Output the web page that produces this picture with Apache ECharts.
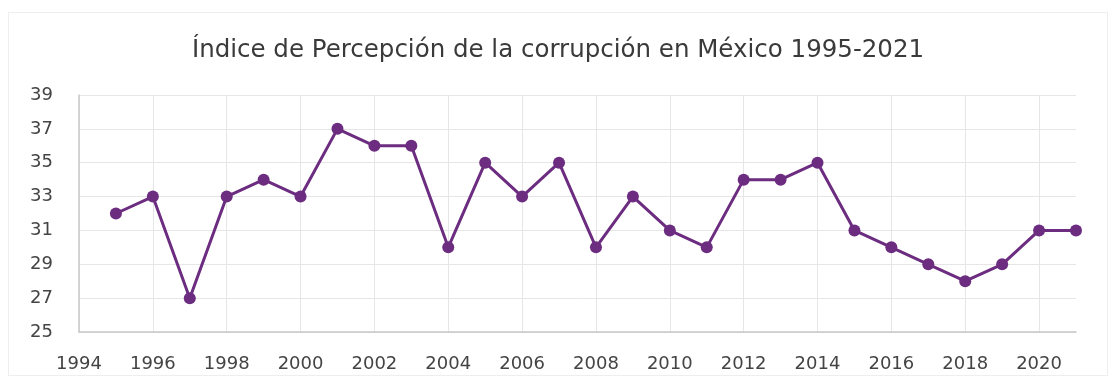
<!DOCTYPE html>
<html>
<head>
<meta charset="utf-8">
<script src="https://cdn.jsdelivr.net/npm/echarts@6/dist/echarts.min.js"></script>
<style>
  html, body { margin: 0; padding: 0; background: #fff; }
  #frame { position: absolute; left: 8px; top: 12px; width: 1100px; height: 364px; border: 1px solid #eeeeee; box-sizing: border-box; }
  #chart { position: absolute; left: 0; top: 0; width: 1116px; height: 383px; }
</style>
</head>
<body>
<div id="frame"></div>
<div id="chart"></div>
<script>
// Corruption Perception Index for Mexico, by year
const years = [1995, 1996, 1997, 1998, 1999, 2000, 2001, 2002, 2003, 2004, 2005, 2006, 2007, 2008,
               2009, 2010, 2011, 2012, 2013, 2014, 2015, 2016, 2017, 2018, 2019, 2020, 2021];
const scores = [32, 33, 27, 33, 34, 33, 37, 36, 36, 30, 35, 33, 35, 30,
                33, 31, 30, 34, 34, 35, 31, 30, 29, 28, 29, 31, 31];
const titleText = 'Índice de Percepción de la corrupción en México 1995-2021';

const chart = echarts.init(document.getElementById('chart'));
const font = '"DejaVu Sans", sans-serif';

chart.setOption({
  animation: false,
  backgroundColor: 'transparent',
  title: {
    text: titleText,
    left: 'center',
    top: 33,
    textStyle: { fontFamily: font, fontSize: 24.5, fontWeight: 'normal', color: '#3a3a3a' }
  },
  grid: { left: 79, right: 40, top: 95, bottom: 51, containLabel: false },
  xAxis: {
    type: 'value',
    min: 1994,
    max: 2021,
    interval: 2,
    axisLine: { show: true, lineStyle: { color: '#c8c8c8', width: 1.5 } },
    axisTick: { show: false },
    axisLabel: {
      showMaxLabel: false,
      margin: 23,
      fontFamily: font, fontSize: 18, color: '#444',
      formatter: v => String(v)
    },
    splitLine: { show: true, showMaxLine: false, lineStyle: { color: '#e6e6e6', width: 1 } }
  },
  yAxis: {
    type: 'value',
    min: 25,
    max: 39,
    interval: 2,
    axisLine: { show: true, lineStyle: { color: '#c8c8c8', width: 1.5 } },
    axisTick: { show: false },
    axisLabel: { margin: 26, fontFamily: font, fontSize: 18, color: '#444' },
    splitLine: { show: true, lineStyle: { color: '#e6e6e6', width: 1 } }
  },
  series: [{
    type: 'line',
    data: years.map((y, i) => [y, scores[i]]),
    symbol: 'circle',
    symbolSize: 12,
    lineStyle: { color: '#6c2c80', width: 3 },
    itemStyle: { color: '#6c2c80' }
  }]
});
</script>
</body>
</html>
